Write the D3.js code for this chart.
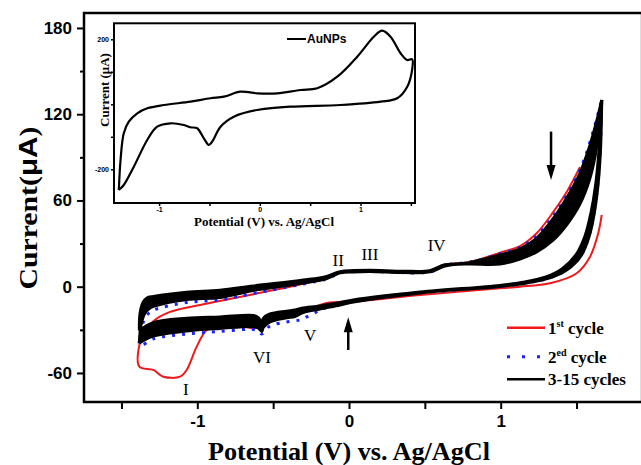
<!DOCTYPE html>
<html>
<head>
<meta charset="utf-8">
<script src="https://cdn.jsdelivr.net/npm/d3@7"></script>
<style>
  body { margin: 0; background: #fff; }
  svg { display: block; }
</style>
</head>
<body>
<div id="chart"></div>
<script>
// potential (V) / current (uA) pairs
const cycle1 = [[1.666,49.9],[1.643,37.2],[1.589,20.9],[1.501,9.4],[1.325,2.4],[1.127,0.0],[0.995,-1.1],[0.468,-5.7],[0.028,-10.4],[-0.147,-11.3],[-0.279,-16.2],[-0.389,-20.3],[-0.521,-24.3],[-0.565,-26.6],[-0.575,-29.6],[-0.600,-28.3],[-0.631,-28.9],[-0.740,-26.6],[-0.850,-26.6],[-0.938,-30.1],[-1.004,-41.7],[-1.070,-57.9],[-1.114,-62.6],[-1.224,-62.6],[-1.290,-57.9],[-1.382,-55.6],
  [-1.382,-40.5],[-1.358,-34.5],[-1.334,-30.5],[-1.290,-24.0],[-1.180,-17.5],[-0.960,-12.2],[-0.631,-5.2],[-0.301,2.0],[-0.147,6.5],[-0.081,9.8],[0.028,10.5],[0.249,10.5],[0.468,9.8],[0.578,12.8],[0.622,15.1],[0.798,17.2],[0.995,23.7],[1.127,28.3],[1.237,37.2],[1.347,52.0],[1.435,65.9],[1.523,83.3]];

const cycle2 = [[1.666,128],[1.656,95],[1.639,70],[1.613,50],[1.580,34.6],[1.527,21.4],[1.435,11.7],[1.323,6.1],[1.171,2.6],[0.995,0.2],[0.468,-4.3],[0.028,-10.4],[-0.147,-14.4],[-0.279,-21.0],[-0.323,-23.1],[-0.411,-24.5],[-0.521,-27.3],[-0.547,-30.1],[-0.575,-32.9],[-0.598,-30.8],[-0.631,-29.7],[-0.850,-31.1],[-1.070,-32.9],[-1.290,-36.3],[-1.378,-41.2],
  [-1.368,-30.1],[-1.345,-21.7],[-1.312,-17.6],[-1.290,-16.2],[-1.070,-11.0],[-0.850,-9.2],[-0.631,-4.7],[-0.301,1.9],[-0.147,5.4],[-0.059,9.6],[0.138,10.6],[0.534,10.3],[0.633,14.8],[0.798,17.2],[0.995,22.8],[1.127,27.3],[1.237,35.3],[1.347,49.2],[1.435,63.5],[1.523,81.2],[1.589,100.7],[1.666,129.9]];

// cycles 3-15 form a band: 3rd cycle and 15th cycle are its edges
const cycle3Up = [[-1.382,-39.1],[-1.371,-26.6],[-1.345,-18.3],[-1.312,-14.8],[-1.290,-13.7],[-1.070,-8.9],[-0.850,-7.5],[-0.631,-2.6],[-0.301,2.6],[-0.147,5.7],[-0.059,9.6],[0.028,10.3],[0.138,10.6],[0.358,9.9],[0.534,10.3],[0.633,14.4],[0.798,16.9],[0.995,22.1],[1.127,26.3],[1.237,33.6],[1.347,47.5],[1.435,61.7],[1.523,79.1],[1.589,98.6],[1.635,116.0],[1.666,129.9]];
const cycle15Up = [[-1.382,-30.5],[-1.378,-19.0],[-1.358,-11.0],[-1.332,-7.8],[-1.290,-6.8],[-1.070,-3.8],[-0.850,-2.5],[-0.631,0.5],[-0.301,4.6],[-0.147,7.2],[-0.059,10.5],[0.028,11.2],[0.138,11.5],[0.358,10.8],[0.534,11.2],[0.633,15.3],[0.798,15.8],[0.995,15.8],[1.127,19.3],[1.237,24.2],[1.347,32.5],[1.435,43.0],[1.523,57.6],[1.589,75.7],[1.635,98.6],[1.666,129.9]];
const cycle3Down = [[1.666,129.9],[1.658,95.1],[1.641,70.1],[1.615,49.9],[1.582,34.6],[1.529,21.4],[1.437,11.7],[1.325,6.1],[1.173,2.6],[0.995,0.2],[0.468,-4.3],[0.028,-10.6],[-0.059,-12.7],[-0.191,-15.5],[-0.312,-18.3],[-0.356,-20.7],[-0.411,-21.7],[-0.521,-24.5],[-0.565,-28.3],[-0.575,-31.1],[-0.598,-28.7],[-0.631,-27.7],[-0.850,-29.0],[-1.070,-30.8],[-1.290,-34.3],[-1.382,-39.1]];
const cycle15Down = [[1.666,129.9],[1.648,95.1],[1.625,70.1],[1.595,51.3],[1.556,35.3],[1.496,22.1],[1.404,12.3],[1.299,6.8],[1.160,3.3],[0.995,0.9],[0.468,-3.7],[0.028,-9.2],[-0.059,-11.0],[-0.191,-13.4],[-0.312,-15.0],[-0.356,-16.2],[-0.411,-17.0],[-0.521,-19.0],[-0.565,-22.0],[-0.575,-25.0],[-0.598,-21.5],[-0.631,-20.0],[-0.850,-21.0],[-1.070,-22.0],[-1.290,-25.0],[-1.382,-30.5]];

// inset: AuNPs
const auUp = [[-1.400,-263.7],[-1.383,-171.4],[-1.351,-89.2],[-1.301,-53.5],[-1.217,-27.7],[-1.118,-12.3],[-0.953,-2.2],[-0.688,8],[-0.490,18.5],[-0.357,23.4],[-0.192,38.8],[-0.026,33.8],[0.173,33.8],[0.404,44],[0.570,49.2],[0.769,84.9],[0.967,146.5],[1.132,208],[1.215,226.5],[1.298,208],[1.398,157],[1.464,136.3],[1.513,138.5]];
const auDown = [[1.513,107.7],[1.464,54.2],[1.364,18.5],[1.199,8],[0.801,-2.2],[0.305,-7.4],[-0.026,-17.5],[-0.258,-38.2],[-0.390,-68.9],[-0.473,-115],[-0.506,-125.2],[-0.556,-104.6],[-0.622,-73.8],[-0.688,-70.8],[-0.755,-63.7],[-0.887,-58.5],[-1.019,-68.9],[-1.118,-109.8],[-1.251,-192],[-1.351,-248.3],[-1.400,-263.7]];

const xTicks = [-1.5, -1, -0.5, 0, 0.5, 1, 1.5];
const yTicks = [-60, 0, 60, 120, 180];
const yMinor = [-30, 30, 90, 150];
const insetXTicks = [-1, -0.5, 0, 0.5, 1, 1.5];
const insetYTicks = [-200, -100, 0, 100, 200];

const peakNames = ["I", "II", "III", "IV", "V", "VI"];
const peakAt = [[-1.075,-71.1],[-0.071,18.6],[0.138,22.8],[0.578,29.0],[-0.257,-33.6],[-0.574,-48.9]];
const arrows = [[-0.005,-44,-21.3],[1.332,107.9,74.3]]; // potential, from, to

const W = 641, H = 465;
const SERIF = "'Liberation Serif', 'Times New Roman', serif";
const SANS = "'Liberation Sans', Arial, sans-serif";

const svg = d3.select("#chart").append("svg").attr("width", W).attr("height", H);
svg.append("rect").attr("width", W).attr("height", H).attr("fill", "#fff");

const x = d3.scaleLinear().domain([-1.747, 1.925]).range([84, 641]);
const y = d3.scaleLinear().domain([-80.2, 190.4]).range([402, 13]);

const line = d3.line().x(d => x(d[0])).y(d => y(d[1])).curve(d3.curveCatmullRom.alpha(0.5));

// axes
const xAxis = svg.append("g").attr("transform", "translate(0,402)")
  .call(d3.axisBottom(x).tickValues(xTicks).tickSize(7).tickPadding(6)
    .tickFormat(d => Number.isInteger(d) ? String(d) : ""));
const yAxis = svg.append("g").attr("transform", "translate(84,0)")
  .call(d3.axisLeft(y).tickValues(yTicks).tickSize(7).tickPadding(5).tickFormat(d => String(d)));
const yMinorAxis = svg.append("g").attr("transform", "translate(84,0)")
  .call(d3.axisLeft(y).tickValues(yMinor).tickSize(4).tickFormat(""));
[xAxis, yAxis, yMinorAxis].forEach(g => {
  g.select(".domain").remove();
  g.selectAll("line").attr("stroke", "#000").attr("stroke-width", 2);
  g.selectAll("text").attr("font-family", SANS).attr("font-weight", "bold").attr("font-size", 17).attr("fill", "#000");
});

// frame
svg.append("line").attr("x1", 640.5).attr("x2", 640.5).attr("y1", 13).attr("y2", 402).attr("stroke", "#ddd").attr("stroke-width", 1);
svg.append("path").attr("d", "M641,13H84V402H641").attr("fill", "none").attr("stroke", "#000").attr("stroke-width", 2.5);

// curves
svg.append("path").attr("d", line(cycle1)).attr("fill", "none").attr("stroke", "#f01818").attr("stroke-width", 2);
svg.append("path").attr("d", line(cycle2)).attr("fill", "none").attr("stroke", "#1a22ff").attr("stroke-width", 3)
  .attr("stroke-dasharray", "3,7");

const bandLine = d3.line().x(d => x(d[0])).y(d => y(d[1])).curve(d3.curveLinear);
svg.append("path").attr("d", bandLine(cycle3Up.concat(cycle15Up.slice().reverse()))).attr("fill", "#000");
svg.append("path").attr("d", bandLine(cycle3Down.concat(cycle15Down.slice().reverse()))).attr("fill", "#000");
[cycle3Up, cycle15Up, cycle3Down, cycle15Down].forEach(c => {
  svg.append("path").attr("d", line(c)).attr("fill", "none").attr("stroke", "#000").attr("stroke-width", 3);
});

// peak labels
svg.selectAll("text.peak").data(peakNames).join("text").attr("class", "peak")
  .attr("x", (d, i) => x(peakAt[i][0])).attr("y", (d, i) => y(peakAt[i][1]) + 6)
  .attr("text-anchor", "middle").attr("font-family", SERIF).attr("font-size", 17).attr("fill", "#000")
  .text(d => d);

// arrows
arrows.forEach(a => {
  const ax = x(a[0]), y0 = y(a[1]), y1 = y(a[2]);
  const dir = y1 < y0 ? 1 : -1;
  svg.append("line").attr("x1", ax).attr("x2", ax).attr("y1", y0).attr("y2", y1 + dir * 12)
    .attr("stroke", "#000").attr("stroke-width", 2.5);
  svg.append("path").attr("d", `M${ax},${y1}L${ax - 4.5},${y1 + dir * 15}L${ax + 4.5},${y1 + dir * 15}Z`).attr("fill", "#000");
});

// legend
const legend = svg.append("g");
const legendRows = [
  { stroke: "#f01818", dash: null, width: 2.5, y: 327.7, base: 333.5, main: "1", sup: "st", rest: " cycle" },
  { stroke: "#1a22ff", dash: "3,12", width: 3, y: 356.7, base: 362.5, main: "2", sup: "ed", rest: " cycle" },
  { stroke: "#000", dash: null, width: 2.5, y: 379.3, base: 384.5, main: "3-15 cycles", sup: "", rest: "" }
];
legendRows.forEach(r => {
  legend.append("line").attr("x1", 507).attr("x2", 545).attr("y1", r.y).attr("y2", r.y)
    .attr("stroke", r.stroke).attr("stroke-width", r.width).attr("stroke-dasharray", r.dash);
  const t = legend.append("text").attr("x", 548).attr("y", r.base).attr("font-family", SERIF)
    .attr("font-weight", "bold").attr("font-size", 17).attr("fill", "#000");
  t.append("tspan").text(r.main);
  if (r.sup) {
    t.append("tspan").attr("font-size", 10).attr("dy", -7).text(r.sup);
    t.append("tspan").attr("dy", 7).text(r.rest);
  }
});

// axis titles
svg.append("text").attr("x", 349).attr("y", 460).attr("text-anchor", "middle")
  .attr("font-family", SERIF).attr("font-weight", "bold").attr("font-size", 25)
  .attr("textLength", 282).attr("lengthAdjust", "spacingAndGlyphs")
  .text("Potential (V) vs. Ag/AgCl");
const yt = svg.append("text").attr("transform", "translate(37,208) rotate(-90)").attr("text-anchor", "middle")
  .attr("font-family", SERIF).attr("font-weight", "bold").attr("font-size", 26)
  .attr("textLength", 163).attr("lengthAdjust", "spacingAndGlyphs");
yt.append("tspan").text("Current(");
yt.append("tspan").attr("font-family", SANS).text("\u03bcA");
yt.append("tspan").text(")");

// inset
const ix = d3.scaleLinear().domain([-1.448, 1.541]).range([114, 415]);
const iy = d3.scaleLinear().domain([-303.7, 249.2]).range([203, 23.3]);
const inset = svg.append("g");
inset.append("rect").attr("x", 114).attr("y", 23.3).attr("width", 301).attr("height", 179.7)
  .attr("fill", "#fff").attr("stroke", "#000").attr("stroke-width", 2);
const ixAxis = inset.append("g").attr("transform", "translate(0,203)")
  .call(d3.axisBottom(ix).tickValues(insetXTicks).tickSize(3).tickPadding(1)
    .tickFormat(d => Number.isInteger(d) && d < 1.5 ? String(d) : ""));
const iyAxis = inset.append("g").attr("transform", "translate(114,0)")
  .call(d3.axisLeft(iy).tickValues(insetYTicks).tickSize(3).tickPadding(2)
    .tickFormat(d => Math.abs(d) === 200 ? String(d) : ""));
[ixAxis, iyAxis].forEach(g => {
  g.select(".domain").remove();
  g.selectAll("line").attr("stroke", "#000").attr("stroke-width", 1.5);
  g.selectAll("text").attr("font-family", SANS).attr("font-weight", "bold").attr("font-size", 7).attr("fill", "#000");
});
const iline = d3.line().x(d => ix(d[0])).y(d => iy(d[1])).curve(d3.curveCatmullRom.alpha(0.5));
inset.append("path").attr("d", iline(auUp.concat(auDown))).attr("fill", "none")
  .attr("stroke", "#000").attr("stroke-width", 2.2);
inset.append("line").attr("x1", 287).attr("x2", 306).attr("y1", 39).attr("y2", 39).attr("stroke", "#000").attr("stroke-width", 2);
inset.append("text").attr("x", 307).attr("y", 43.3).attr("font-family", SANS).attr("font-weight", "bold")
  .attr("font-size", 12).text("AuNPs");
inset.append("text").attr("x", 264).attr("y", 225.5).attr("text-anchor", "middle")
  .attr("font-family", SERIF).attr("font-weight", "bold").attr("font-size", 13).text("Potential (V) vs. Ag/AgCl");
const iyt = inset.append("text").attr("transform", "translate(109,90) rotate(-90)").attr("text-anchor", "middle")
  .attr("font-family", SERIF).attr("font-weight", "bold").attr("font-size", 13);
iyt.append("tspan").text("Current (");
iyt.append("tspan").text("\u03bcA");
iyt.append("tspan").text(")");
</script>
</body>
</html>
